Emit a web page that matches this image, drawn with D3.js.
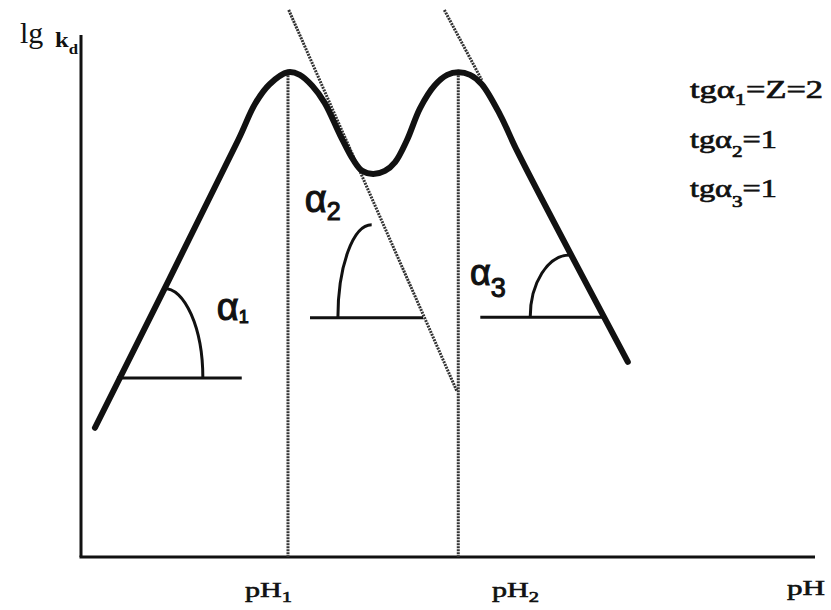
<!DOCTYPE html>
<html>
<head>
<meta charset="utf-8">
<script src="https://cdn.jsdelivr.net/npm/d3@7"></script>
<style>
  html, body { margin: 0; padding: 0; background: #fff; }
  svg { display: block; }
</style>
</head>
<body>
<svg id="chart" width="831" height="610"></svg>
<script>
// Distribution curve lg kd versus pH (arbitrary units, 0..10 on both axes)
const curvePH   = [0.19, 2.14, 2.37, 2.57, 2.82, 2.98, 3.15, 3.32, 3.53, 3.71, 3.83, 3.98, 4.14, 4.28, 4.44, 4.62, 4.82, 4.99, 5.14, 5.30, 5.46, 5.71, 5.95, 7.45];
const curveLgKd = [2.49, 8.03, 8.73, 9.11, 9.34, 9.29, 9.08, 8.75, 8.13, 7.65, 7.44, 7.38, 7.44, 7.61, 8.03, 8.65, 9.09, 9.29, 9.34, 9.29, 9.11, 8.52, 7.80, 3.76];

// Maxima positions
const maximaPH   = [2.82, 5.14];
const maximaLgKd = [9.34, 9.34];
const maximaLabels = ["1", "2"];

// Tangent (dotted) lines: start / end points
const tangentPH   = [[2.83, 5.12], [4.95, 5.46]];
const tangentLgKd = [[10.54, 3.20], [10.54, 9.19]];

// Angle markers: horizontal base, arc foot on the base, arc end on the slope
const angleNames    = ["1", "2", "3"];
const angleBaseFrom = [0.49, 3.12, 5.44];
const angleBaseTo   = [2.19, 4.66, 7.14];
const angleBaseLg   = [3.45, 4.61, 4.62];
const angleFootPH   = [1.66, 3.50, 6.12];
const angleTopPH    = [1.12, 3.96, 6.66];
const angleTopLg    = [5.18, 6.40, 5.82];
const angleLabelPH  = [1.85, 3.05, 5.30];
const angleLabelLg  = [4.57, 6.65, 5.24];

// Slope notes
const noteSub   = ["1", "2", "3"];
const noteTail  = ["=Z=2", "=1", "=1"];

const svg = d3.select("#chart");
const x = d3.scaleLinear().domain([0, 10]).range([81, 815]);
const y = d3.scaleLinear().domain([0, 10]).range([557, 38]);

const ink = "#111";
const serif = "'Liberation Serif', 'Times New Roman', serif";
const sans = "'Liberation Sans', Arial, sans-serif";

// Axes (plain lines, no ticks)
svg.append("line")
  .attr("x1", x(0)).attr("y1", y(0)).attr("x2", x(0)).attr("y2", y(10.06))
  .attr("stroke", ink).attr("stroke-width", 3);
svg.append("line")
  .attr("x1", x(0) - 1.5).attr("y1", y(0)).attr("x2", x(10)).attr("y2", y(0))
  .attr("stroke", ink).attr("stroke-width", 3);

// Vertical dotted lines at the maxima
svg.selectAll("line.vmax").data(maximaPH).join("line")
  .attr("class", "vmax")
  .attr("x1", d => x(d)).attr("x2", d => x(d))
  .attr("y1", (d, i) => y(maximaLgKd[i])).attr("y2", y(0))
  .attr("stroke", "#333").attr("stroke-width", 3)
  .attr("stroke-dasharray", "2,1");

// Tangent dotted lines
svg.selectAll("line.tan").data(tangentPH).join("line")
  .attr("class", "tan")
  .attr("x1", d => x(d[0])).attr("x2", d => x(d[1]))
  .attr("y1", (d, i) => y(tangentLgKd[i][0])).attr("y2", (d, i) => y(tangentLgKd[i][1]))
  .attr("stroke", "#333").attr("stroke-width", 3)
  .attr("stroke-dasharray", "2,1");

// Main curve
const pts = curvePH.map((p, i) => [p, curveLgKd[i]]);
svg.append("path")
  .datum(pts)
  .attr("d", d3.line().x(d => x(d[0])).y(d => y(d[1])).curve(d3.curveCatmullRom.alpha(0.5)))
  .attr("fill", "none").attr("stroke", ink).attr("stroke-width", 6)
  .attr("stroke-linecap", "round").attr("stroke-linejoin", "round");

// Angle markers
angleNames.forEach((n, i) => {
  svg.append("line")
    .attr("x1", x(angleBaseFrom[i])).attr("x2", x(angleBaseTo[i]))
    .attr("y1", y(angleBaseLg[i])).attr("y2", y(angleBaseLg[i]))
    .attr("stroke", ink).attr("stroke-width", 3);
  const fx = x(angleFootPH[i]), fy = y(angleBaseLg[i]);
  const tx = x(angleTopPH[i]), ty = y(angleTopLg[i]);
  const rx = Math.abs(fx - tx), ry = Math.abs(fy - ty);
  // quarter ellipse centred on (top x, base y), drawn clockwise
  const [sx, sy, ex, ey] = fx > tx ? [tx, ty, fx, fy] : [fx, fy, tx, ty];
  svg.append("path")
    .attr("d", `M${sx},${sy} A${rx},${ry} 0 0 1 ${ex},${ey}`)
    .attr("fill", "none").attr("stroke", ink).attr("stroke-width", 3);
});

// Angle labels
const alphaSizes = [38, 38, 36];
const subSizes = [18, 25, 27];
const subShift = [3, 8, 12];
angleNames.forEach((n, i) => {
  const t = svg.append("text")
    .attr("x", x(angleLabelPH[i])).attr("y", y(angleLabelLg[i]))
    .attr("font-family", sans)
    .attr("font-size", alphaSizes[i]).attr("fill", ink)
    .attr("stroke", ink).attr("stroke-width", 1.1);
  t.append("tspan").text("α");
  t.append("tspan").attr("dy", subShift[i]).attr("font-size", subSizes[i]).text(n);
});

// Axis titles
svg.append("text")
  .attr("x", 20).attr("y", 43)
  .attr("font-family", serif)
  .attr("font-size", 30).attr("fill", ink).text("lg");
const kd = svg.append("text")
  .attr("x", 55).attr("y", 47)
  .attr("font-family", serif)
  .attr("font-weight", "bold").attr("font-size", 22).attr("fill", ink)
  .attr("textLength", 23).attr("lengthAdjust", "spacingAndGlyphs");
kd.append("tspan").text("k");
kd.append("tspan").attr("dy", 7).attr("font-size", 15).text("d");

const pHLabelX = [245, 492];
maximaLabels.forEach((n, i) => {
  const t = svg.append("text")
    .attr("x", pHLabelX[i]).attr("y", 597)
    .attr("font-family", serif)
    .attr("font-size", 22).attr("fill", ink)
    .attr("stroke", ink).attr("stroke-width", 0.6)
    .attr("textLength", 47).attr("lengthAdjust", "spacingAndGlyphs");
  t.append("tspan").text("pH");
  t.append("tspan").attr("dy", 5).attr("font-size", 15).text(n);
});
svg.append("text")
  .attr("x", 787).attr("y", 595)
  .attr("font-family", serif)
  .attr("font-size", 22).attr("fill", ink)
  .attr("stroke", ink).attr("stroke-width", 0.6)
  .attr("textLength", 38).attr("lengthAdjust", "spacingAndGlyphs")
  .text("pH");

// Slope notes
const noteY = [98, 148, 197];
const noteW = [133, 87, 87];
const noteSubDy = [7, 9, 10];
noteSub.forEach((n, i) => {
  const t = svg.append("text")
    .attr("x", 690).attr("y", noteY[i])
    .attr("font-family", serif)
    .attr("font-size", 26).attr("fill", ink)
    .attr("stroke", ink).attr("stroke-width", 0.7)
    .attr("textLength", noteW[i]).attr("lengthAdjust", "spacingAndGlyphs");
  t.append("tspan").text("tgα");
  t.append("tspan").attr("dy", noteSubDy[i]).attr("font-size", 17).text(n);
  t.append("tspan").attr("dy", -noteSubDy[i]).text(noteTail[i]);
});
</script>
</body>
</html>
